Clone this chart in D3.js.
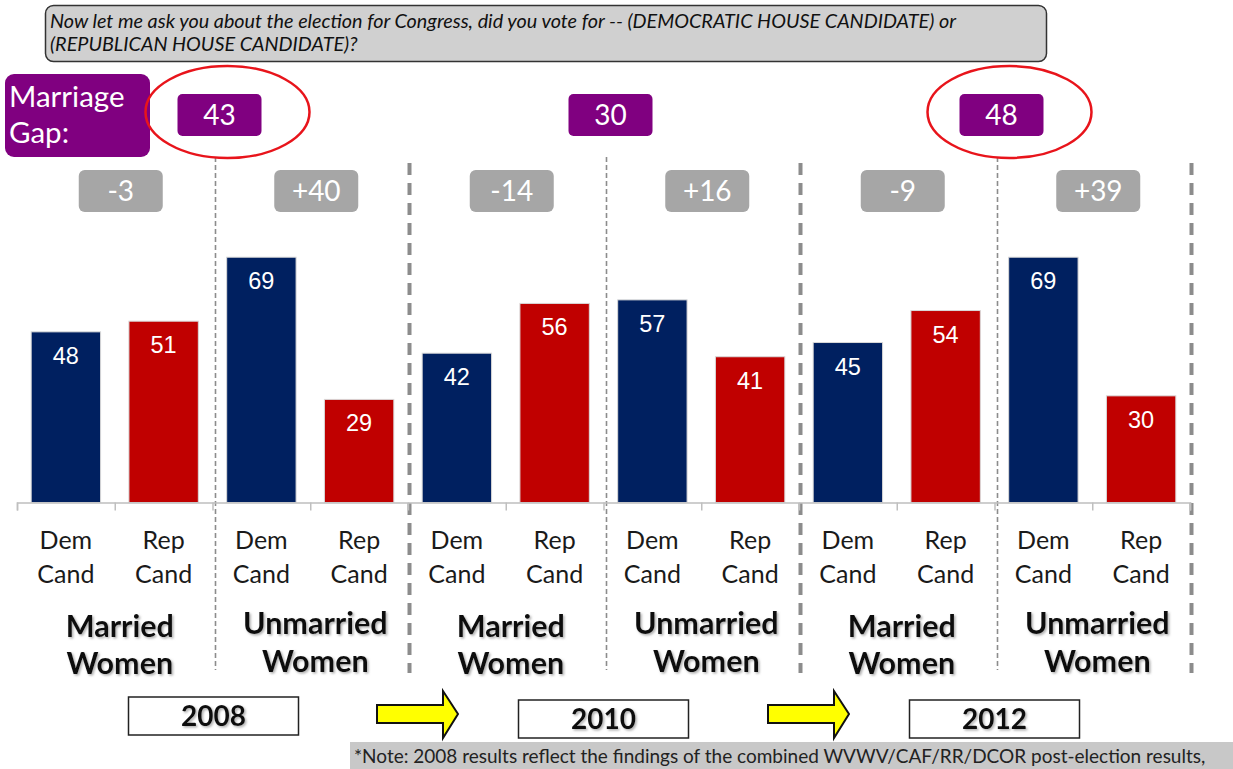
<!DOCTYPE html>
<html>
<head>
<meta charset="utf-8">
<script src="https://cdn.jsdelivr.net/npm/d3@7"></script>
<style>
  html, body { margin: 0; padding: 0; background: #fff; }
  svg { display: block; }
</style>
</head>
<body>
<svg id="chart" width="1233" height="769"></svg>
<script>
// ---------- data ----------
const years = ["2008", "2010", "2012"];
const groups = ["Married|Women", "Unmarried|Women"];
const candidates = ["Dem|Cand", "Rep|Cand"];
const demValues = [48, 69, 42, 57, 45, 69];
const repValues = [51, 29, 56, 41, 54, 30];
const gapLabels = ["-3", "+40", "-14", "+16", "-9", "+39"];
const marriageGap = ["43", "30", "48"];
const highlightedYears = ["2008", "2012"];
const questionLines = [
  "Now let me ask you about the election for Congress, did you vote for -- (DEMOCRATIC HOUSE CANDIDATE) or",
  "(REPUBLICAN HOUSE CANDIDATE)?"
];
const noteText = "*Note: 2008 results reflect the findings of the combined WVWV/CAF/RR/DCOR post-election results,";

// build rows
const rows = [];
years.forEach((yr, yi) => {
  groups.forEach((g, gi) => {
    const k = yi * 2 + gi;
    rows.push({ id: `${yr}-${gi}-D`, year: yr, group: g, pair: k, cand: candidates[0], party: "D", value: demValues[k] });
    rows.push({ id: `${yr}-${gi}-R`, year: yr, group: g, pair: k, cand: candidates[1], party: "R", value: repValues[k] });
  });
});

const svg = d3.select("#chart");
const calibri = "Lato, 'Open Sans', sans-serif";
const arial = "'Liberation Sans', Arial, sans-serif";

const defs = svg.append("defs");
const f = defs.append("filter").attr("id", "shadow").attr("x", "-10%").attr("y", "-10%").attr("width", "130%").attr("height", "140%");
f.append("feDropShadow").attr("dx", 1.5).attr("dy", 1.5).attr("stdDeviation", 1).attr("flood-color", "#777").attr("flood-opacity", 0.6);

// ---------- scales ----------
const x = d3.scaleBand().domain(rows.map(d => d.id)).range([17, 1190]).paddingInner(0.29).paddingOuter(0.145);
const y = d3.scaleLinear().domain([0, 100]).range([502.5, 147]);
const idx = d3.scaleLinear().domain([0, rows.length]).range([17, 1190]);

const pairCenter = k => idx(k * 2 + 1);
const yearCenter = k => idx(k * 4 + 2);

// ---------- question box ----------
svg.append("rect").attr("x", 45.5).attr("y", 5.5).attr("width", 1001).attr("height", 56)
  .attr("rx", 8).attr("fill", "#d0d0d0").attr("stroke", "#333").attr("stroke-width", 1.5);
svg.append("g").selectAll("text").data(questionLines).join("text")
  .attr("x", 50).attr("y", (d, i) => 28 + i * 23)
  .attr("font-family", calibri).attr("font-style", "italic").attr("font-size", 19.8).attr("fill", "#111")
  .text(d => d);

// ---------- marriage gap label ----------
svg.append("rect").attr("x", 5).attr("y", 74).attr("width", 145).attr("height", 83).attr("rx", 9).attr("fill", "#800080");
svg.append("text").attr("x", 9).attr("y", 107).attr("font-family", calibri).attr("font-size", 29.5).attr("fill", "#fff").text("Marriage");
svg.append("text").attr("x", 9).attr("y", 143).attr("font-family", calibri).attr("font-size", 29.5).attr("fill", "#fff").text("Gap:");

// ---------- dashed separators ----------
svg.append("g").selectAll("line").data(years).join("line")
  .attr("x1", (d, i) => yearCenter(i) + 3).attr("x2", (d, i) => yearCenter(i) + 3)
  .attr("y1", 157).attr("y2", 670)
  .attr("stroke", "#8c8c8c").attr("stroke-width", 1.6).attr("stroke-dasharray", "5,3");
svg.append("g").selectAll("line").data(years).join("line")
  .attr("x1", (d, i) => idx((i + 1) * 4) + 1.5).attr("x2", (d, i) => idx((i + 1) * 4) + 1.5)
  .attr("y1", 163).attr("y2", 673)
  .attr("stroke", "#8c8c8c").attr("stroke-width", 4).attr("stroke-dasharray", "12,8");

// ---------- red ellipses ----------
svg.append("g").selectAll("ellipse").data(highlightedYears).join("ellipse")
  .attr("cx", d => yearCenter(years.indexOf(d)) + 15).attr("cy", 112)
  .attr("rx", 82).attr("ry", 46)
  .attr("fill", "none").attr("stroke", "#e8141b").attr("stroke-width", 2.5);

// ---------- marriage gap boxes ----------
const mg = svg.append("g").selectAll("g").data(marriageGap).join("g")
  .attr("transform", (d, i) => `translate(${yearCenter(i) + 7},115)`);
mg.append("rect").attr("x", -42).attr("y", -21).attr("width", 84).attr("height", 42).attr("rx", 5).attr("fill", "#800080");
mg.append("text").attr("text-anchor", "middle").attr("y", 10).attr("font-family", calibri).attr("font-size", 28).attr("fill", "#fff").text(d => d);

// ---------- gap boxes ----------
const gb = svg.append("g").selectAll("g").data(gapLabels).join("g")
  .attr("transform", (d, i) => `translate(${pairCenter(i) + 6},191)`);
gb.append("rect").attr("x", -42).attr("y", -21).attr("width", 84).attr("height", 42).attr("rx", 6).attr("fill", "#a6a6a6");
gb.append("text").attr("text-anchor", "middle").attr("y", 10).attr("font-family", calibri).attr("font-size", 28).attr("fill", "#fff").text(d => d);

// ---------- bars ----------
svg.append("g").selectAll("rect").data(rows).join("rect")
  .attr("x", d => x(d.id)).attr("width", x.bandwidth())
  .attr("y", d => y(d.value)).attr("height", d => y(0) - y(d.value))
  .attr("fill", d => d.party === "D" ? "#002060" : "#c00000")
  .attr("stroke", "#d9d9d9").attr("stroke-width", 1);

svg.append("g").selectAll("text").data(rows).join("text")
  .attr("x", d => x(d.id) + x.bandwidth() / 2).attr("y", d => y(d.value) + 32)
  .attr("text-anchor", "middle").attr("font-family", arial).attr("font-size", 23.5).attr("fill", "#fff")
  .text(d => d.value);

// ---------- axis ----------
const axis = svg.append("g").attr("transform", `translate(0,${y(0)})`)
  .call(d3.axisBottom(idx).tickValues(d3.range(rows.length + 1)).tickFormat("").tickSize(8).tickSizeOuter(8));
axis.selectAll("path, line").attr("stroke", "#bfbfbf").attr("stroke-width", 1.5);

// ---------- category labels ----------
const cl = svg.append("g").selectAll("text").data(rows).join("text")
  .attr("text-anchor", "middle").attr("font-family", calibri).attr("font-size", 25).attr("fill", "#1a1a1a");
cl.append("tspan").attr("x", d => x(d.id) + x.bandwidth() / 2).attr("y", 549).text(d => d.cand.split("|")[0]);
cl.append("tspan").attr("x", d => x(d.id) + x.bandwidth() / 2).attr("y", 583).text(d => d.cand.split("|")[1]);

// ---------- group labels ----------
const pairs = d3.range(years.length * groups.length).map(k => ({ k, label: groups[k % 2] }));
const gl = svg.append("g").selectAll("text").data(pairs).join("text")
  .attr("text-anchor", "middle").attr("font-family", calibri).attr("font-weight", "bold").attr("font-size", 30.5)
  .attr("fill", "#111").attr("filter", "url(#shadow)");
gl.append("tspan").attr("x", d => pairCenter(d.k) + 5).attr("y", d => d.k % 2 ? 634 : 637).text(d => d.label.split("|")[0]);
gl.append("tspan").attr("x", d => pairCenter(d.k) + 5).attr("y", d => d.k % 2 ? 672 : 674).text(d => d.label.split("|")[1]);

// ---------- year boxes ----------
const yb = svg.append("g").selectAll("g").data(years).join("g")
  .attr("transform", (d, i) => `translate(${yearCenter(i) + (i === 0 ? 1 : 0)},${i === 0 ? 715 : 718})`);
yb.append("rect").attr("x", -85).attr("y", -18).attr("width", 170).attr("height", 38)
  .attr("fill", "#fff").attr("stroke", "#222").attr("stroke-width", 1.5);
yb.append("text").attr("text-anchor", "middle").attr("y", 11).attr("font-family", calibri).attr("font-weight", "bold")
  .attr("font-size", 28).attr("fill", "#111").attr("filter", "url(#shadow)").text(d => d);

// ---------- arrows ----------
const arrowPath = "M0,-9 L66,-9 L66,-23 L81,0 L66,24 L66,9 L0,9 Z";
svg.append("g").selectAll("path").data(years.slice(0, -1)).join("path")
  .attr("transform", (d, i) => `translate(${(yearCenter(i) + yearCenter(i + 1)) / 2 - 31},714)`)
  .attr("d", arrowPath).attr("fill", "#ffff00").attr("stroke", "#111").attr("stroke-width", 2).attr("stroke-linejoin", "miter");

// ---------- note ----------
svg.append("rect").attr("x", 350).attr("y", 742).attr("width", 883).attr("height", 27).attr("fill", "#c8c8c8");
svg.append("text").attr("x", 354).attr("y", 763).attr("font-family", calibri).attr("font-size", 19).attr("fill", "#222").text(noteText);
</script>
</body>
</html>
